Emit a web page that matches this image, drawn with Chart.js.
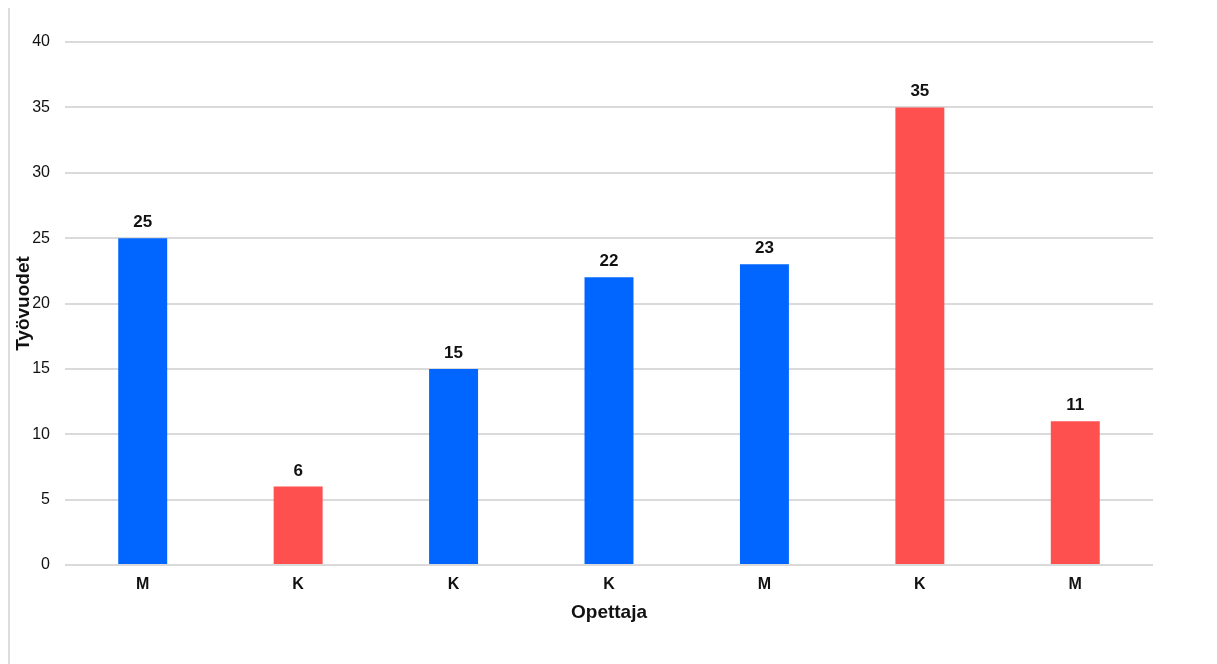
<!DOCTYPE html>
<html>
<head>
<meta charset="utf-8">
<script src="https://cdn.jsdelivr.net/npm/chart.js@4"></script>
<style>
  body { margin: 0; background: #fff; }
  #wrap { position: relative; width: 1217px; height: 664px; }
  #edge { position: absolute; left: 8px; top: 8px; bottom: 0; border-left: 2px solid #dcdcdc; }
</style>
</head>
<body>
<div id="wrap">
  <div id="edge"></div>
  <canvas id="tyoChart"></canvas>
</div>
<script>
const labels = ['M', 'K', 'K', 'K', 'M', 'K', 'M'];
const vuodet = [25, 6, 15, 22, 23, 35, 11];
const barColors = ['#0066ff', '#ff5050', '#0066ff', '#0066ff', '#0066ff', '#ff5050', '#ff5050'];

const fontFamily = '"Liberation Sans", Arial, sans-serif';

// value printed above each bar
const valueLabels = {
  id: 'valueLabels',
  afterDatasetsDraw(chart) {
    const ctx = chart.ctx;
    const meta = chart.getDatasetMeta(0);
    ctx.save();
    ctx.font = 'bold 17px ' + fontFamily;
    ctx.fillStyle = '#111';
    ctx.textAlign = 'center';
    ctx.textBaseline = 'alphabetic';
    meta.data.forEach((bar, i) => {
      ctx.fillText(chart.data.datasets[0].data[i], bar.x, bar.y - 11);
    });
    ctx.restore();
  }
};

const ctx = document.getElementById('tyoChart').getContext('2d');
const chart = new Chart(ctx, {
  type: 'bar',
  data: {
    labels: labels,
    datasets: [{
      data: vuodet,
      backgroundColor: barColors,
      borderWidth: 0,
      barPercentage: 0.315,
      categoryPercentage: 1,
    }],
  },
  options: {
    responsive: true,
    maintainAspectRatio: false,
    animation: false,
    layout: {
      padding: { left: 8, right: 64, top: 42, bottom: 36 }
    },
    plugins: {
      legend: { display: false },
      tooltip: { enabled: false },
    },
    scales: {
      x: {
        grid: { display: false, drawTicks: false },
        border: { display: false },
        ticks: {
          color: '#111',
          padding: 10,
          font: { family: fontFamily, size: 16, weight: 'bold' },
        },
        title: {
          display: true,
          text: 'Opettaja',
          color: '#111',
          font: { family: fontFamily, size: 19, weight: 'bold' },
        },
        afterFit(scale) { scale.height = 63; },
      },
      y: {
        min: 0,
        max: 40,
        ticks: {
          stepSize: 5,
          color: '#111',
          padding: 15,
          font: { family: fontFamily, size: 16 },
        },
        grid: { color: '#dadada', lineWidth: 2, drawTicks: false },
        border: { display: false },
        title: {
          display: true,
          text: 'Työvuodet',
          color: '#111',
          font: { family: fontFamily, size: 19, weight: 'bold' },
        },
        afterFit(scale) { scale.width = 57; },
      },
    },
  },
  plugins: [valueLabels],
});
</script>
</body>
</html>
